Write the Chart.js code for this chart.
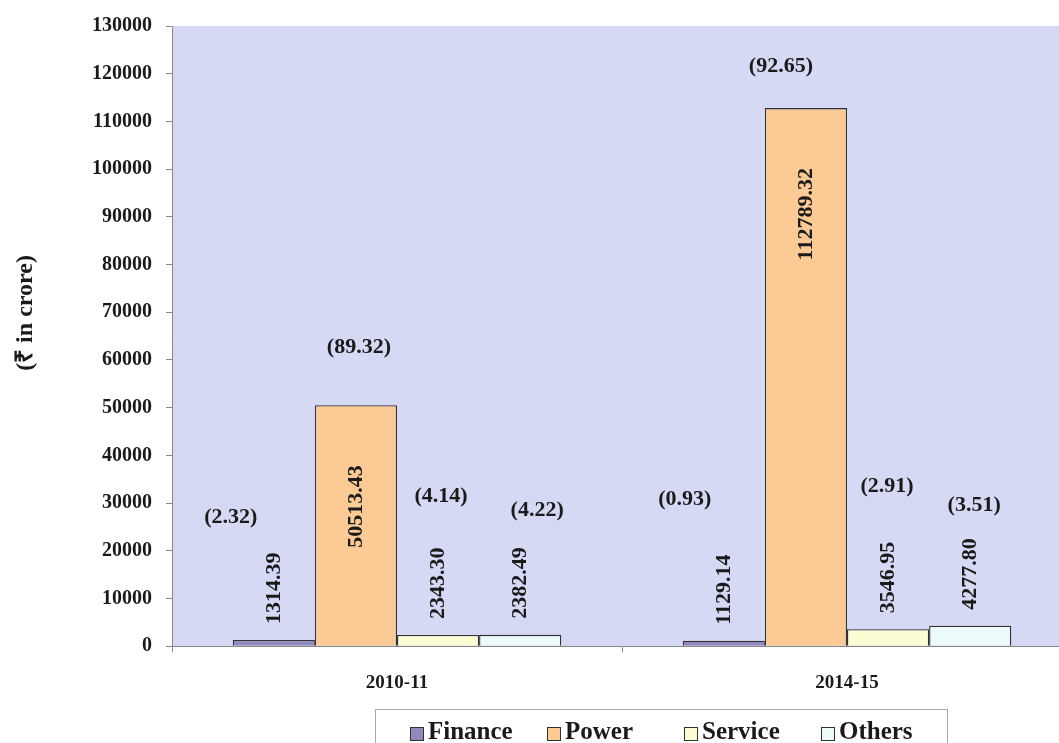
<!DOCTYPE html>
<html>
<head>
<meta charset="utf-8">
<script src="https://cdn.jsdelivr.net/npm/chart.js@4.4.1/dist/chart.umd.min.js"></script>
<style>
    html, body { margin: 0; padding: 0; background: #fff; overflow: hidden; }
    #wrap { width: 1075px; height: 743px; }
</style>
</head>
<body>
<div id="wrap"><canvas id="sectorChart"></canvas></div>
<script>
// Years on the x axis
const years = ['2010-11', '2014-15'];

// Investment by sector (₹ in crore), one value per year
const finance = [1314.39, 1129.14];
const power = [50513.43, 112789.32];
const service = [2343.30, 3546.95];
const others = [2382.49, 4277.80];

// Share of the year's total, in per cent
const financePct = [2.32, 0.93];
const powerPct = [89.32, 92.65];
const servicePct = [4.14, 2.91];
const othersPct = [4.22, 3.51];

// y axis range
const yMin = 0;
const yMax = 130000;
const yStep = 10000;

const serif = "'Liberation Serif', 'Times New Roman', serif";

// Hand placed offsets of the (%) labels from the top of each bar
const pctNudge = [
    [[-43, -123], [-39, -142]],
    [[3, -58], [-25, -42]],
    [[3, -139], [-1, -143]],
    [[17, -125], [4, -120]]
];

const datasets = [
    { label: 'Finance', data: finance, pct: financePct, backgroundColor: '#9189bd' },
    { label: 'Power', data: power, pct: powerPct, backgroundColor: '#fcca95' },
    { label: 'Service', data: service, pct: servicePct, backgroundColor: '#fdfdd3' },
    { label: 'Others', data: others, pct: othersPct, backgroundColor: '#edfafa' }
].map(ds => Object.assign(ds, {
    borderColor: '#333',
    borderWidth: 1.3,
    categoryPercentage: 0.73,
    barPercentage: 1.0
}));

// lavender plot area
const plotBg = {
    id: 'plotBg',
    beforeDraw(chart) {
        const a = chart.chartArea;
        const ctx = chart.ctx;
        ctx.save();
        ctx.fillStyle = '#d5d9f4';
        ctx.fillRect(a.left, a.top, a.right - a.left, a.bottom - a.top);
        ctx.restore();
    }
};

// value (vertical) and percentage labels on each bar
const barLabels = {
    id: 'barLabels',
    afterDatasetsDraw(chart) {
        const ctx = chart.ctx;
        ctx.save();
        ctx.fillStyle = '#1a1a1a';
        chart.data.datasets.forEach((ds, i) => {
            chart.getDatasetMeta(i).data.forEach((bar, j) => {
                const text = ds.data[j].toFixed(2);
                ctx.font = 'bold 22px ' + serif;
                const w = ctx.measureText(text).width;
                const inside = (bar.base - bar.y) > w + 80;
                ctx.save();
                ctx.translate(bar.x, inside ? bar.y + 60 : bar.y - 16);
                ctx.rotate(-Math.PI / 2);
                ctx.textAlign = inside ? 'right' : 'left';
                ctx.textBaseline = 'middle';
                ctx.fillText(text, 0, 0);
                ctx.restore();

                const n = pctNudge[i][j];
                ctx.textAlign = 'center';
                ctx.textBaseline = 'middle';
                ctx.fillText('(' + ds.pct[j].toFixed(2) + ')', bar.x + n[0], bar.y + n[1]);
            });
        });
        ctx.restore();
    }
};

// y axis title
const yTitle = {
    id: 'yTitle',
    afterDraw(chart) {
        const ctx = chart.ctx;
        ctx.save();
        ctx.translate(26, 313);
        ctx.rotate(-Math.PI / 2);
        ctx.font = 'bold 24px ' + serif;
        ctx.fillStyle = '#1a1a1a';
        ctx.textAlign = 'center';
        ctx.textBaseline = 'middle';
        ctx.fillText('(\u20B9 in crore)', 0, 0);
        ctx.restore();
    }
};

// boxed legend under the x axis
const boxLegend = {
    id: 'boxLegend',
    afterDraw(chart) {
        const ctx = chart.ctx;
        const box = { x: 375, y: 709, w: 572, h: 60 };
        ctx.save();
        ctx.strokeStyle = '#a8a8a8';
        ctx.lineWidth = 1;
        ctx.strokeRect(box.x + 0.5, box.y + 0.5, box.w, box.h);
        ctx.font = 'bold 25px ' + serif;
        ctx.textBaseline = 'alphabetic';
        ctx.textAlign = 'left';
        let x = box.x + 35;
        chart.data.datasets.forEach(ds => {
            ctx.fillStyle = ds.backgroundColor;
            ctx.fillRect(x, 727, 14, 14);
            ctx.strokeStyle = '#333';
            ctx.strokeRect(x + 0.5, 727.5, 13, 13);
            ctx.fillStyle = '#1a1a1a';
            ctx.fillText(ds.label, x + 18, 739);
            x += 137;
        });
        ctx.restore();
    }
};

new Chart(document.getElementById('sectorChart').getContext('2d'), {
    type: 'bar',
    data: {
        labels: years,
        datasets: datasets
    },
    options: {
        responsive: true,
        maintainAspectRatio: false,
        animation: false,
        layout: {
            padding: { top: 26, right: 3, bottom: 30, left: 0 }
        },
        plugins: {
            legend: { display: false },
            tooltip: { enabled: false }
        },
        scales: {
            x: {
                grid: { drawOnChartArea: false, drawTicks: true, tickLength: 6, color: '#888', offset: true },
                border: { color: '#888' },
                ticks: {
                    color: '#1a1a1a',
                    padding: 19,
                    font: { family: serif, size: 19, weight: 'bold' }
                }
            },
            y: {
                min: yMin,
                max: yMax,
                afterFit: scale => { scale.width = 172; },
                grid: { drawOnChartArea: false, drawTicks: true, tickLength: 6, color: '#888' },
                border: { color: '#888' },
                ticks: {
                    stepSize: yStep,
                    color: '#1a1a1a',
                    padding: 14,
                    font: { family: serif, size: 20, weight: 'bold' },
                    callback: value => String(value)
                }
            }
        }
    },
    plugins: [plotBg, barLabels, yTitle, boxLegend]
});
</script>
</body>
</html>
